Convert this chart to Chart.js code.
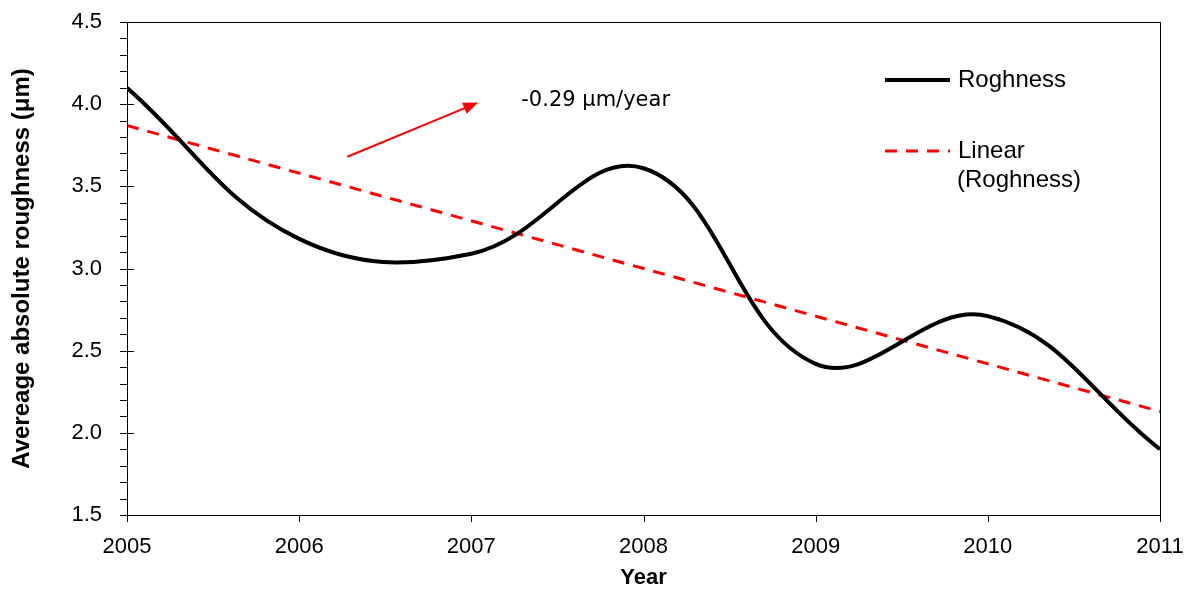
<!DOCTYPE html>
<html>
<head>
<meta charset="utf-8">
<script src="https://cdn.jsdelivr.net/npm/chart.js@4.4.1/dist/chart.umd.min.js"></script>
<style>
  html,body{margin:0;padding:0;background:#fff;}
  #wrap{width:1189px;height:591px;position:relative;}
</style>
</head>
<body>
<div id="wrap"><canvas id="chart"></canvas></div>
<script>
const YEARS = [2005, 2006, 2007, 2008, 2009, 2010, 2011];
const ROUGHNESS = [4.10, 3.18, 3.09, 3.61, 2.42, 2.71, 1.90];
const TREND_YEARS = [2005, 2011];
const TREND_VALUES = [3.87, 2.13];
const Y_TICKS = [1.5, 2.0, 2.5, 3.0, 3.5, 4.0, 4.5];
const SERIES_NAMES = ['Roghness', 'Linear (Roghness)'];
const SLOPE_LABEL = '-0.29 \u03bcm/year';
// arrow in data units (year, µm)
const ARROW_FROM = {x: 2006.28, y: 3.68};
const ARROW_TO = {x: 2007.04, y: 4.01};
const LABEL_AT = {x: 2007.29, y: 4.02};

const FONT = '"Liberation Sans", Arial, sans-serif';

function pts(xs, ys){
  return xs.map((x,i)=>({x:x, y:ys[i]}));
}

const extras = {
  id: 'extras',
  afterDraw(chart){
    const ctx = chart.ctx;
    const a = chart.chartArea;
    const xs = chart.scales.x, ys = chart.scales.y;
    ctx.save();
    // frame
    ctx.strokeStyle = '#000';
    ctx.lineWidth = 1;
    ctx.strokeRect(Math.round(a.left)+0.5, Math.round(a.top)+0.5, Math.round(a.right-a.left), Math.round(a.bottom-a.top));
    // y ticks: major cross the axis, minor outside only
    ctx.beginPath();
    for(let k=0;k<Y_TICKS.length;k++){
      const v = Y_TICKS[k];
      const py = Math.round(ys.getPixelForValue(v))+0.5;
      ctx.moveTo(a.left-7, py); ctx.lineTo(a.left+7, py);
      if(k < Y_TICKS.length-1){
        const step = (Y_TICKS[k+1]-v)/5;
        for(let m=1;m<5;m++){
          const my = Math.round(ys.getPixelForValue(v+step*m))+0.5;
          ctx.moveTo(a.left-7, my); ctx.lineTo(a.left, my);
        }
      }
    }
    // x ticks
    YEARS.forEach(yr=>{
      const px = Math.round(xs.getPixelForValue(yr))+0.5;
      ctx.moveTo(px, a.bottom); ctx.lineTo(px, a.bottom+7);
    });
    ctx.stroke();

    // arrow
    const x1 = xs.getPixelForValue(ARROW_FROM.x), y1 = ys.getPixelForValue(ARROW_FROM.y);
    const x2 = xs.getPixelForValue(ARROW_TO.x), y2 = ys.getPixelForValue(ARROW_TO.y);
    const ang = Math.atan2(y2-y1, x2-x1);
    ctx.strokeStyle = '#ff0000';
    ctx.fillStyle = '#ff0000';
    ctx.lineWidth = 2;
    ctx.beginPath();
    ctx.moveTo(x1,y1);
    ctx.lineTo(x2-12*Math.cos(ang), y2-12*Math.sin(ang));
    ctx.stroke();
    ctx.beginPath();
    ctx.moveTo(x2,y2);
    ctx.lineTo(x2-15*Math.cos(ang)+6*Math.sin(ang), y2-15*Math.sin(ang)-6*Math.cos(ang));
    ctx.lineTo(x2-15*Math.cos(ang)-6*Math.sin(ang), y2-15*Math.sin(ang)+6*Math.cos(ang));
    ctx.closePath();
    ctx.fill();

    // slope label
    ctx.fillStyle = '#000';
    ctx.font = '21px "DejaVu Sans", sans-serif';
    ctx.textAlign = 'left';
    ctx.textBaseline = 'middle';
    ctx.fillText(SLOPE_LABEL, xs.getPixelForValue(LABEL_AT.x), ys.getPixelForValue(LABEL_AT.y));

    // legend
    const dsets = chart.data.datasets;
    const lx0 = 885, lx1 = 950, tx = 958;
    const rows = [80, 151];
    ctx.font = '24px ' + FONT;
    dsets.forEach((ds,i)=>{
      ctx.strokeStyle = ds.borderColor;
      ctx.lineWidth = ds.borderWidth;
      ctx.setLineDash(ds.borderDash || []);
      ctx.beginPath();
      ctx.moveTo(lx0, rows[i]); ctx.lineTo(lx1, rows[i]);
      ctx.stroke();
      ctx.setLineDash([]);
      ctx.fillStyle = '#000';
      const words = ds.label.split(' ');
      if(words.length > 1){
        ctx.fillText(words[0], tx, rows[i]);
        ctx.fillText(words.slice(1).join(' '), tx-1, rows[i]+29);
      } else {
        ctx.fillText(ds.label, tx, rows[i]);
      }
    });
    ctx.restore();
  }
};

new Chart(document.getElementById('chart'), {
  type: 'line',
  data: {
    datasets: [
      {
        label: SERIES_NAMES[0],
        data: pts(YEARS, ROUGHNESS),
        borderColor: '#000000',
        borderWidth: 4,
        pointRadius: 0,
        tension: 0.4,
        fill: false
      },
      {
        label: SERIES_NAMES[1],
        data: pts(TREND_YEARS, TREND_VALUES),
        borderColor: '#ff0000',
        borderWidth: 3,
        borderDash: [12, 9],
        pointRadius: 0,
        tension: 0,
        fill: false
      }
    ]
  },
  options: {
    responsive: true,
    maintainAspectRatio: false,
    animation: false,
    layout: { padding: { top: 22, right: 29, left: 0, bottom: 0 } },
    plugins: { legend: { display: false }, tooltip: { enabled: false } },
    scales: {
      x: {
        type: 'linear',
        min: 2005, max: 2011,
        grid: { display: false },
        border: { display: false },
        afterBuildTicks: s => { s.ticks = YEARS.map(v=>({value:v})); },
        afterFit: s => { s.height = 76; s.paddingLeft = 0; s.paddingRight = 0; },
        ticks: {
          autoSkip: false, maxRotation: 0,
          padding: 11,
          color: '#000',
          font: { family: FONT, size: 22 },
          callback: v => String(v)
        },
        title: {
          display: true, text: 'Year', color: '#000',
          font: { family: FONT, size: 22, weight: 'bold' },
          padding: { top: 0, bottom: 0 }
        }
      },
      y: {
        min: 1.5, max: 4.5,
        grid: { display: false },
        border: { display: false },
        afterBuildTicks: s => { s.ticks = Y_TICKS.map(v=>({value:v})); },
        afterFit: s => { s.width = 127; s.paddingTop = 0; s.paddingBottom = 0; },
        ticks: {
          autoSkip: false,
          padding: 17,
          color: '#000',
          font: { family: FONT, size: 22 },
          callback: v => Number(v).toFixed(1)
        },
        title: {
          display: true, text: 'Avereage absolute roughness (\u03bcm)', color: '#000',
          font: { family: FONT, size: 24, weight: 'bold' },
          padding: { top: 8, bottom: 0 }
        }
      }
    }
  },
  plugins: [extras]
});
</script>
</body>
</html>
